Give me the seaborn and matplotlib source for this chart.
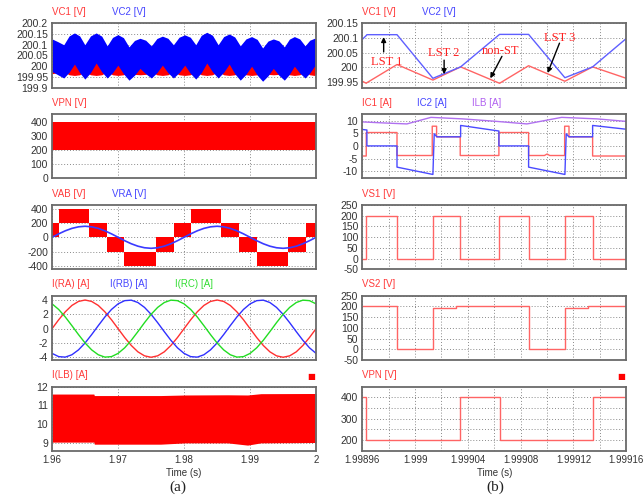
import numpy as np
import matplotlib
matplotlib.use("Agg")
import matplotlib.pyplot as plt
from matplotlib.ticker import FuncFormatter
import seaborn as sns

# ---------------- (a) 1.96 s .. 2 s ----------------
# capacitor voltages: ripple band envelopes (start, then cusp/mid/peak/mid ..., end)
t_vc_a = [1.96, 1.96089,
          1.96177, 1.96258, 1.96339, 1.96418, 1.96496, 1.96582, 1.96668, 1.96752,
          1.96835, 1.96916, 1.96997, 1.97081, 1.97165, 1.97249, 1.97332, 1.97418,
          1.97504, 1.97588, 1.97671, 1.97755, 1.97838, 1.97924, 1.98010, 1.98094,
          1.98177, 1.98261, 1.98344, 1.98430, 1.98516, 1.98600, 1.98684, 1.98768,
          1.98851, 1.98937, 1.99023, 1.99107, 1.99190, 1.99271, 1.99352, 1.99436,
          1.99519, 1.99595, 1.99671, 1.99752, 1.99833, 1.99904, 1.99975, 1.99988,
          2.0]
vc2_hi_a = [200.127, 200.114,
            200.100, 200.141, 200.155, 200.141, 200.100, 200.141, 200.155, 200.140,
            200.095, 200.134, 200.147, 200.133, 200.090, 200.120, 200.130, 200.121,
            200.095, 200.129, 200.140, 200.130, 200.100, 200.135, 200.146, 200.135,
            200.100, 200.144, 200.158, 200.144, 200.100, 200.138, 200.150, 200.136,
            200.095, 200.127, 200.138, 200.125, 200.085, 200.117, 200.127, 200.118,
            200.090, 200.126, 200.138, 200.127, 200.095, 200.121, 200.130, 200.129,
            200.125]
vc2_lo_a = [199.975, 199.960,
            199.945, 199.972, 200.010, 199.970, 199.940, 199.970, 200.015, 199.974,
            199.945, 199.970, 200.005, 199.965, 199.935, 199.958, 199.990, 199.965,
            199.945, 199.970, 200.005, 199.970, 199.945, 199.970, 200.005, 199.967,
            199.940, 199.970, 200.015, 199.974, 199.945, 199.972, 200.010, 199.965,
            199.935, 199.962, 200.000, 199.959, 199.930, 199.955, 199.990, 199.958,
            199.935, 199.962, 200.000, 199.968, 199.945, 199.968, 200.000, 199.988,
            199.975]
vc1_hi_a = [199.990, 199.990,
            199.990, 200.010, 200.020, 200.010, 199.990, 200.010, 200.020, 200.010,
            199.990, 200.010, 200.020, 200.010, 199.990, 200.010, 200.015, 200.010,
            199.990, 200.010, 200.020, 200.010, 199.990, 200.010, 200.020, 200.010,
            199.990, 200.010, 200.020, 200.010, 199.990, 200.010, 200.020, 200.010,
            199.990, 200.010, 200.020, 200.010, 199.990, 200.010, 200.015, 200.010,
            199.990, 200.010, 200.020, 200.010, 199.990, 200.010, 200.020, 200.010,
            199.990]
vc1_lo_a = [199.965, 199.970,
            199.975, 199.960, 199.957, 199.960, 199.975, 199.960, 199.957, 199.960,
            199.975, 199.960, 199.957, 199.960, 199.975, 199.962, 199.960, 199.962,
            199.975, 199.960, 199.957, 199.960, 199.975, 199.960, 199.957, 199.960,
            199.975, 199.960, 199.957, 199.960, 199.975, 199.960, 199.957, 199.960,
            199.975, 199.960, 199.957, 199.960, 199.975, 199.962, 199.960, 199.962,
            199.975, 199.960, 199.957, 199.960, 199.975, 199.960, 199.957, 199.960,
            199.965]

# VPN band (switching between 200 and 400 V)
t_vpn_a = [1.96, 2.0]
vpn_lo_a = [200, 200]
vpn_hi_a = [400, 400]

# VAB multilevel band (step edges) and VRA
t_vab = [1.96, 1.961, 1.9656, 1.9683, 1.9709, 1.9757, 1.9784, 1.981, 1.9856,
         1.9883, 1.991, 1.9958, 1.9985, 2.0]
vab_lo = [0, 200, 0, -200, -400, -200, 0, 200, 0, -200, -400, -200, 0, 0]
vab_hi = [200, 400, 200, 0, -200, 0, 200, 400, 200, 0, -200, 0, 200, 200]

t_sin = [1.960, 1.961, 1.962, 1.963, 1.964, 1.965, 1.966, 1.967, 1.968, 1.969,
         1.970, 1.971, 1.972, 1.973, 1.974, 1.975, 1.976, 1.977, 1.978, 1.979,
         1.980, 1.981, 1.982, 1.983, 1.984, 1.985, 1.986, 1.987, 1.988, 1.989,
         1.990, 1.991, 1.992, 1.993, 1.994, 1.995, 1.996, 1.997, 1.998, 1.999, 2.000]
vra = [0, 48, 91, 125, 147, 155, 147, 125, 91, 48, 0, -48, -91, -125, -147, -155,
       -147, -125, -91, -48, 0, 48, 91, 125, 147, 155, 147, 125, 91, 48, 0, -48,
       -91, -125, -147, -155, -147, -125, -91, -48, 0]
i_ra = [0, 1.24, 2.35, 3.24, 3.80, 4.0, 3.80, 3.24, 2.35, 1.24, 0, -1.24, -2.35,
        -3.24, -3.80, -4.0, -3.80, -3.24, -2.35, -1.24, 0, 1.24, 2.35, 3.24, 3.80,
        4.0, 3.80, 3.24, 2.35, 1.24, 0, -1.24, -2.35, -3.24, -3.80, -4.0, -3.80,
        -3.24, -2.35, -1.24, 0]
i_rb = [-3.46, -3.91, -3.98, -3.65, -2.97, -2.0, -0.83, 0.42, 1.63, 2.68, 3.46,
        3.91, 3.98, 3.65, 2.97, 2.0, 0.83, -0.42, -1.63, -2.68, -3.46, -3.91, -3.98,
        -3.65, -2.97, -2.0, -0.83, 0.42, 1.63, 2.68, 3.46, 3.91, 3.98, 3.65, 2.97,
        2.0, 0.83, -0.42, -1.63, -2.68, -3.46]
i_rc = [3.46, 2.68, 1.63, 0.42, -0.83, -2.0, -2.97, -3.65, -3.98, -3.91, -3.46,
        -2.68, -1.63, -0.42, 0.83, 2.0, 2.97, 3.65, 3.98, 3.91, 3.46, 2.68, 1.63,
        0.42, -0.83, -2.0, -2.97, -3.65, -3.98, -3.91, -3.46, -2.68, -1.63, -0.42,
        0.83, 2.0, 2.97, 3.65, 3.98, 3.91, 3.46]

# inductor current ripple band
t_ilb = [1.96, 1.96633, 1.96640, 1.97645, 1.98025, 1.98658, 1.98962, 1.99165, 2.0]
ilb_hi = [11.60, 11.60, 11.52, 11.52, 11.55, 11.56, 11.55, 11.62, 11.63]
ilb_lo = [9.04, 9.04, 8.93, 8.93, 9.00, 9.00, 8.88, 9.00, 9.02]

# ---------------- (b) 1.99896 s .. 1.99916 s (times in us from T0_B) ----------------
T0_B = 1.99896
us_vc = [0, 3.0, 3.5, 26.3, 53.5, 74.5, 104.0, 126.0, 153.5, 174.5, 200]
vc2_b = [200.095, 200.108, 200.111, 200.111, 199.962, 200.001, 200.112, 200.112,
         199.964, 200.001, 200.098]
vc1_b = [199.952, 199.945, 199.947, 200.009, 199.956, 200.001, 199.945, 200.005,
         199.952, 200.001, 199.962]

us_ic1 = [0, 3.0, 3.0, 26.3, 26.3, 53.0, 53.0, 56.3, 56.3, 74.2, 74.2, 103.5, 103.5,
          126.0, 126.0, 138.0, 140.0, 142.0, 153.3, 153.3, 156.6, 156.6, 174.5, 174.5, 200]
ic1 = [-4.0, -4.0, 5.3, 5.3, -3.8, -3.8, 7.8, 7.8, 3.6, 3.6, -3.8, -3.8, 5.3,
       5.3, -3.8, -3.8, -3.2, -3.8, -3.8, 7.8, 7.8, 3.6, 3.6, -4.0, -4.0]
us_ic2 = [0, 3.5, 3.5, 26.3, 26.3, 53.5, 54.5, 56.5, 74.5, 74.5, 103.5, 103.5,
          126.0, 126.0, 153.5, 154.5, 156.5, 174.5, 174.5, 200]
ic2 = [6.5, 6.3, 0, 0, -8.4, -11.3, 4.8, 3.6, 3.6, 8.1, 5.9, 0, 0, -8.4, -11.3,
       4.8, 3.6, 3.6, 8.1, 6.6]
us_ilb = [0, 16, 33.8, 52, 76, 102, 124.7, 151, 177.8, 200]
ilb_b = [9.5, 9.1, 8.7, 11.3, 10.7, 9.7, 8.7, 11.3, 10.7, 9.7]

us_vs1 = [0, 3.0, 26.3, 53.5, 74.2, 103.5, 126.0, 153.5, 174.5, 200]
vs1 = [0, 200, 0, 200, 0, 200, 0, 200, 0, 0]
us_vs2 = [0, 26.3, 53.5, 71.0, 126.0, 153.5, 171.0, 200]
vs2 = [200, 0, 195, 200, 0, 195, 200, 200]
us_vpn = [0, 3.0, 74.2, 104.0, 174.5, 200]
vpn_b = [400, 200, 400, 200, 400, 400]

# annotations on VC (b): text, text pos (us, V), arrow tail, arrow head
notes = [("LST 1", (18.7, 200.018), (16.2, 200.052), (16.2, 200.103)),
         ("LST 2", (62.0, 200.048), (62.0, 200.024), (62.0, 199.976)),
         ("non-ST", (104.6, 200.054), (105.8, 200.037), (97.0, 199.962)),
         ("LST 3", (149.4, 200.100), (149.4, 200.082), (140.4, 199.980))]

xticks_a = [1.96, 1.97, 1.98, 1.99, 2.0]
xticks_b_us = [0, 40, 80, 120, 160, 200]
xtick_labels_b = ["1.99896", "1.999", "1.99904", "1.99908", "1.99912", "1.99916"]

RED, BLUE = "#ff0000", "#0000ff"
LRED, LBLUE, PURPLE = "#ff6464", "#5f5fff", "#b070f0"
TRED, TBLUE, TGREEN, TPURPLE = "#ff3a3a", "#4646ff", "#33dd33", "#b060f0"


def tb(us):
    return [T0_B + u * 1e-6 for u in us]


sns.set_style("white")
plt.rcParams["font.family"] = ["Liberation Sans", "DejaVu Sans"]

fig = plt.figure(figsize=(6.43, 4.95), dpi=100)
axes = fig.subplots(5, 2)
fig.subplots_adjust(left=0.081, right=0.974, top=0.953, bottom=0.089,
                    wspace=0.175, hspace=0.41)
fmt = FuncFormatter(lambda v, _: f"{v:g}")


def style(ax, xlim, ylim, yticks, xticks, xminor=None, yminor=None, bottom=False):
    ax.set_xlim(xlim)
    ax.set_ylim(ylim)
    ax.set_xticks(xticks)
    ax.set_yticks(yticks)
    if xminor is not None:
        ax.set_xticks(xminor, minor=True)
    if yminor is not None:
        ax.set_yticks(yminor, minor=True)
    ax.yaxis.set_major_formatter(fmt)
    ax.xaxis.set_major_formatter(fmt)
    ax.set_axisbelow(True)
    ax.grid(True, which="both", ls=(0, (1, 2)), color="#8a8a8a", lw=0.7)
    for s in ax.spines.values():
        s.set_color("#6a6a6a")
        s.set_linewidth(1.3)
    ax.tick_params(which="both", length=0, labelsize=7.5, colors="#333333", pad=3)
    ax.tick_params(axis="x", labelbottom=bottom, labelsize=7)


def labels(ax, items):
    for text, frac, color in items:
        ax.annotate(text, xy=(frac, 1), xycoords="axes fraction", xytext=(0, 4.5),
                    textcoords="offset points", ha="left", va="bottom",
                    fontsize=7, color=color)


def square(ax):
    ax.annotate("\u25a0", xy=(1, 1), xycoords="axes fraction", xytext=(-1, 4),
                textcoords="offset points", ha="right", va="bottom",
                fontsize=6, color=RED, family="DejaVu Sans")


xl_a = (1.96, 2.0)
xl_b = (T0_B, T0_B + 200e-6)
xt_b = tb(xticks_b_us)
xm_b = tb([20, 60, 100, 140, 180])

# ---- (a) column ----
ax = axes[0, 0]
ax.fill_between(t_vc_a, vc1_lo_a, vc1_hi_a, color=RED, lw=0)
ax.fill_between(t_vc_a, vc2_lo_a, vc2_hi_a, color=BLUE, lw=0)
style(ax, xl_a, (199.9, 200.2), [199.9, 199.95, 200, 200.05, 200.1, 200.15, 200.2], xticks_a)
labels(ax, [("VC1 [V]", 0, TRED), ("VC2 [V]", 0.227, TBLUE)])

ax = axes[1, 0]
ax.fill_between(t_vpn_a, vpn_lo_a, vpn_hi_a, color=RED, lw=0)
style(ax, xl_a, (-7, 454), [0, 100, 200, 300, 400], xticks_a)
labels(ax, [("VPN [V]", 0, TRED)])

ax = axes[2, 0]
ax.fill_between(t_vab, vab_lo, vab_hi, step="post", color=RED, lw=0)
sns.lineplot(x=t_sin, y=vra, ax=ax, color="#3a3aff", lw=1.2, estimator=None, sort=False)
style(ax, xl_a, (-450, 455), [-400, -200, 0, 200, 400], xticks_a)
labels(ax, [("VAB [V]", 0, TRED), ("VRA [V]", 0.227, TBLUE)])

ax = axes[3, 0]
sns.lineplot(x=t_sin, y=i_ra, ax=ax, color="#ff3030", lw=1.0, estimator=None, sort=False)
sns.lineplot(x=t_sin, y=i_rb, ax=ax, color="#3030ff", lw=1.0, estimator=None, sort=False)
sns.lineplot(x=t_sin, y=i_rc, ax=ax, color="#22dd22", lw=1.0, estimator=None, sort=False)
style(ax, xl_a, (-4.4, 4.6), [-4, -2, 0, 2, 4], xticks_a)
labels(ax, [("I(RA) [A]", 0, TRED), ("I(RB) [A]", 0.22, TBLUE), ("I(RC) [A]", 0.466, TGREEN)])

ax = axes[4, 0]
ax.fill_between(t_ilb, ilb_lo, ilb_hi, color=RED, lw=0)
style(ax, xl_a, (8.57, 12), [9, 10, 11, 12], xticks_a, bottom=True)
labels(ax, [("I(LB) [A]", 0, TRED)])
square(ax)
ax.set_xlabel("Time (s)", fontsize=7, color="#333333", labelpad=2)

# ---- (b) column ----
ax = axes[0, 1]
sns.lineplot(x=tb(us_vc), y=vc1_b, ax=ax, color=LRED, lw=1.0, estimator=None, sort=False)
sns.lineplot(x=tb(us_vc), y=vc2_b, ax=ax, color=LBLUE, lw=1.0, estimator=None, sort=False)
style(ax, xl_b, (199.93, 200.15), [199.95, 200, 200.05, 200.1, 200.15], xt_b, xminor=xm_b)
labels(ax, [("VC1 [V]", 0, TRED), ("VC2 [V]", 0.227, TBLUE)])
for text, tpos, tail, head in notes:
    ax.text(T0_B + tpos[0] * 1e-6, tpos[1], text, ha="center", va="center",
            fontsize=9, color="#ff2020", family="Liberation Serif")
    ax.annotate("", xy=(T0_B + head[0] * 1e-6, head[1]),
                xytext=(T0_B + tail[0] * 1e-6, tail[1]),
                arrowprops=dict(arrowstyle="-|>", color="black", lw=1.0,
                                mutation_scale=7, shrinkA=0, shrinkB=0))

ax = axes[1, 1]
sns.lineplot(x=tb(us_ilb), y=ilb_b, ax=ax, color=PURPLE, lw=1.0, estimator=None, sort=False)
sns.lineplot(x=tb(us_ic1), y=ic1, ax=ax, color=LRED, lw=1.0, estimator=None, sort=False)
sns.lineplot(x=tb(us_ic2), y=ic2, ax=ax, color="#4a4aff", lw=1.0, estimator=None, sort=False)
style(ax, xl_b, (-12.9, 12.6), [-10, -5, 0, 5, 10], xt_b, xminor=xm_b)
labels(ax, [("IC1 [A]", 0, TRED), ("IC2 [A]", 0.208, TBLUE), ("ILB [A]", 0.417, TPURPLE)])

ax = axes[2, 1]
sns.lineplot(x=tb(us_vs1), y=vs1, ax=ax, color=LRED, lw=1.0, drawstyle="steps-post",
             estimator=None, sort=False)
style(ax, xl_b, (-50, 250), [-50, 0, 50, 100, 150, 200, 250], xt_b, xminor=xm_b)
labels(ax, [("VS1 [V]", 0, TRED)])

ax = axes[3, 1]
sns.lineplot(x=tb(us_vs2), y=vs2, ax=ax, color=LRED, lw=1.0, drawstyle="steps-post",
             estimator=None, sort=False)
style(ax, xl_b, (-50, 250), [-50, 0, 50, 100, 150, 200, 250], xt_b, xminor=xm_b)
labels(ax, [("VS2 [V]", 0, TRED)])

ax = axes[4, 1]
sns.lineplot(x=tb(us_vpn), y=vpn_b, ax=ax, color=LRED, lw=1.0, drawstyle="steps-post",
             estimator=None, sort=False)
style(ax, xl_b, (150, 450), [200, 300, 400], xt_b, xminor=xm_b, yminor=[250, 350], bottom=True)
ax.set_xticklabels(xtick_labels_b)
labels(ax, [("VPN [V]", 0, TRED)])
square(ax)
ax.set_xlabel("Time (s)", fontsize=7, color="#333333", labelpad=2)

fig.text(0.277, 0.016, "(a)", ha="center", va="center", fontsize=11,
         family="Liberation Serif", color="#222222")
fig.text(0.771, 0.016, "(b)", ha="center", va="center", fontsize=11,
         family="Liberation Serif", color="#222222")

fig.savefig("out.png", dpi=100)
